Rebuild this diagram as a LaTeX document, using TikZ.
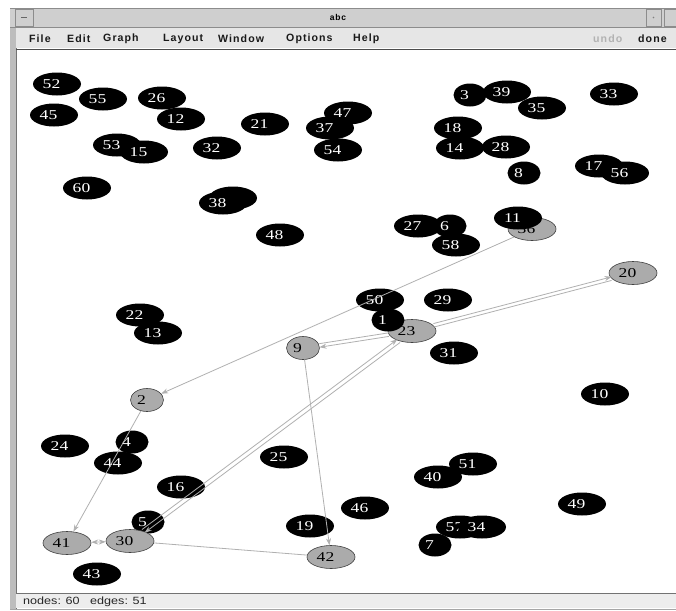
\documentclass[tikz,border=0pt]{standalone}
\usepackage{fontspec}
\setmainfont{Liberation Serif}
\newfontfamily\nodefont[FakeStretch=1.3]{Liberation Serif}
\newfontfamily\menufont[LetterSpace=10]{Liberation Sans}
\newfontfamily\statusfont[FakeStretch=1.2]{Liberation Sans}
\usetikzlibrary{shapes.geometric,arrows.meta}
\definecolor{edgegray}{HTML}{B0B0B0}
\definecolor{nodegray}{HTML}{ABABAB}
\definecolor{barback}{HTML}{E6E6E6}
\definecolor{titleback}{HTML}{CFCFCF}
\definecolor{framegray}{HTML}{BDBDBD}
\tikzset{
  bnode/.style={ellipse, fill=black, text=white, minimum width=48pt, minimum height=23pt,
    inner sep=0pt, font=\nodefont\fontsize{13.5}{14}\selectfont, execute at end node={\kern11pt}},
  gnode/.style={bnode, fill=nodegray, draw=black!75, text=black, line width=0.6pt},
  sm/.style={minimum width=33pt},
  edge/.style={draw=edgegray, line width=0.8pt},
  menu/.style={anchor=west, inner sep=0pt, text=black!90, font=\menufont\bfseries\fontsize{10.6}{12}\selectfont}
}
\begin{document}
\begin{tikzpicture}[x=1pt, y=-1pt, >={Stealth[length=7pt,width=5pt]}]
\useasboundingbox (0,0) rectangle (676,610);
% window frame
\fill[white] (0,0) rectangle (676,610);
\fill[framegray] (10,8) rectangle (16,610);
\draw[black!55] (16,28) -- (16,610);
\fill[titleback] (10,8) rectangle (676,27);
\draw[black!45] (10,8) -- (676,8) (10,27) -- (676,27);
\draw[black!45, fill=titleback] (15,9) rectangle (33,26);
\draw[black!60] (21,17.5) -- (27,17.5);
\draw[black!45, fill=titleback] (646,9) rectangle (661,26);
\fill[black!50] (653.5,17.5) circle (0.8);
\draw[black!45, fill=titleback] (664,9) rectangle (680,26);
\node[font=\menufont\bfseries\fontsize{8.5}{10}\selectfont, inner sep=0pt] (title) at (338,17.5) {abc};
\fill[barback] (16,28) rectangle (676,48);
\draw[black!70, line width=1.6pt] (16,49.5) -- (676,49.5);
\node[menu] (mfile) at (29,39) {File};
\node[menu] (medit) at (67,39) {Edit};
\node[menu] (mgraph) at (103,39) {Graph};
\node[menu] (mlayout) at (163,39) {Layout};
\node[menu] (mwindow) at (218,39) {Window};
\node[menu] (moptions) at (286,39) {Options};
\node[menu] (mhelp) at (353,39) {Help};
\node[menu, text=black!30] (mundo) at (593,39) {undo};
\node[menu] (mdone) at (638,39) {done};
% status bar
\fill[barback!70!white] (16,594) rectangle (676,608);
\draw[black!55] (16,593.5) -- (676,593.5);
\draw[black!35] (10,609) -- (676,609);
\node[anchor=west, inner sep=0pt, text=black!85, font=\statusfont\fontsize{10.5}{12}\selectfont] (status) at (23,602) {nodes: 60\ \ \ edges: 51};
% nodes, top left
\node[bnode] (n52) at (57,84) {52};
\node[bnode] (n55) at (103,99) {55};
\node[bnode] (n45) at (54,115) {45};
\node[bnode] (n26) at (162,98) {26};
\node[bnode] (n12) at (181,119) {12};
\node[bnode] (n53) at (117,145) {53};
\node[bnode] (n15) at (144,152) {15};
\node[bnode] (n32) at (217,148) {32};
\node[bnode] (n21) at (265,124) {21};
\node[bnode] (n47) at (348,113) {47};
\node[bnode] (n37) at (330,128) {37};
\node[bnode] (n54) at (338,150) {54};
\node[bnode] (n60) at (87,188) {60};
\node[bnode] (n59) at (233,198) {};
\node[bnode] (n38) at (223,203) {38};
\node[bnode] (n48) at (280,235) {48};
% nodes, top right
\node[bnode,sm] (n3) at (470,95) {3};
\node[bnode] (n39) at (507,92) {39};
\node[bnode] (n35) at (542,108) {35};
\node[bnode] (n33) at (614,94) {33};
\node[bnode] (n18) at (458,128) {18};
\node[bnode] (n14) at (460,148) {14};
\node[bnode] (n28) at (506,147) {28};
\node[bnode,sm] (n8) at (524,173) {8};
\node[bnode] (n17) at (599,166) {17};
\node[bnode] (n56) at (625,173) {56};
\node[bnode] (n27) at (418,226) {27};
\node[bnode,sm] (n6) at (450,226) {6};
\node[bnode] (n58) at (456,245) {58};
\node[gnode] (n36) at (532,229) {36};
\node[bnode] (n11) at (518,218) {11};
% nodes, middle
\node[gnode] (n20) at (633,273) {20};
\node[bnode] (n50) at (380,300) {50};
\node[bnode] (n29) at (448,300) {29};
\node[gnode] (n23) at (412,331) {23};
\node[bnode,sm] (n1) at (388,320) {1};
\node[bnode] (n31) at (454,353) {31};
\node[gnode,sm] (n9) at (303,348) {9};
\node[bnode] (n22) at (140,315) {22};
\node[bnode] (n13) at (158,333) {13};
\node[gnode,sm] (n2) at (147,400) {2};
\node[bnode] (n10) at (605,394) {10};
% nodes, bottom
\node[bnode] (n24) at (65,446) {24};
\node[bnode,sm] (n4) at (132,442) {4};
\node[bnode] (n44) at (118,463) {44};
\node[bnode] (n25) at (284,457) {25};
\node[bnode] (n16) at (181,487) {16};
\node[bnode,sm] (n5) at (148,522) {5};
\node[gnode] (n30) at (130,541) {30};
\node[gnode] (n41) at (67,543) {41};
\node[bnode] (n19) at (310,526) {19};
\node[bnode] (n46) at (365,508) {46};
\node[gnode] (n42) at (331,557) {42};
\node[bnode] (n43) at (97,574) {43};
\node[bnode] (n40) at (438,477) {40};
\node[bnode] (n51) at (473,464) {51};
\node[bnode] (n49) at (582,504) {49};
\node[bnode] (n57) at (460,527) {57};
\node[bnode] (n34) at (482,527) {34};
\node[bnode,sm] (n7) at (435,545) {7};
% edges
\draw[edge,->] (n36) -- (n2);
\draw[edge,->,transform canvas={yshift=1.8pt}] (n23) -- (n20);
\draw[edge,transform canvas={yshift=-1.8pt}] (n23) -- (n20);
\draw[edge,transform canvas={yshift=1.8pt}] (n9) -- (n23);
\draw[edge,->,transform canvas={yshift=-1.8pt}] (n23) -- (n9);
\draw[edge,->,transform canvas={xshift=-1.3pt,yshift=1.6pt}] (n30) -- (n23);
\draw[edge,->,transform canvas={xshift=1.3pt,yshift=-1.6pt}] (n23) -- (n30);
\draw[edge,->] (n9) -- (n42);
\draw[edge,->] (n2) -- (n41);
\draw[edge,<->] (n41) -- (n30);
\draw[edge] (n42) -- (n30);
\end{tikzpicture}
\end{document}
